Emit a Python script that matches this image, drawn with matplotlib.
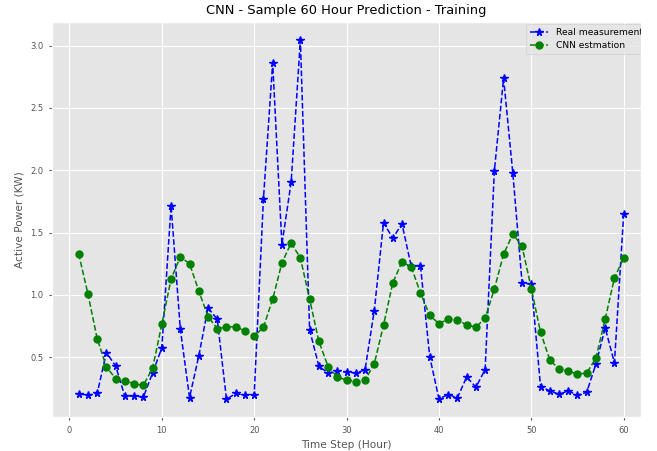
import matplotlib
matplotlib.use("Agg")
import matplotlib.pyplot as plt

# hourly time steps
hours = list(range(1, 61))

# measured active power (KW)
real_power = [
    0.206, 0.195, 0.209, 0.537, 0.430, 0.185, 0.190, 0.180, 0.374, 0.575,
    1.717, 0.727, 0.176, 0.510, 0.896, 0.805, 0.163, 0.209, 0.195, 0.200,
    1.770, 2.861, 1.404, 1.904, 3.045, 0.719, 0.428, 0.372, 0.390, 0.380,
    0.374, 0.398, 0.874, 1.580, 1.455, 1.570, 1.230, 1.235, 0.505, 0.166,
    0.200, 0.174, 0.342, 0.259, 0.401, 1.997, 2.738, 1.976, 1.096, 1.086,
    0.265, 0.230, 0.203, 0.230, 0.195, 0.219, 0.447, 0.735, 0.455, 1.650,
]

# CNN model estimate (KW)
cnn_power = [
    1.329, 1.008, 0.650, 0.422, 0.329, 0.313, 0.286, 0.275, 0.412, 0.765,
    1.128, 1.305, 1.251, 1.032, 0.826, 0.730, 0.741, 0.746, 0.709, 0.668,
    0.741, 0.965, 1.257, 1.417, 1.297, 0.965, 0.628, 0.425, 0.342, 0.316,
    0.305, 0.316, 0.447, 0.757, 1.096, 1.265, 1.225, 1.016, 0.835, 0.770,
    0.805, 0.800, 0.759, 0.741, 0.813, 1.048, 1.326, 1.489, 1.390, 1.051,
    0.700, 0.479, 0.404, 0.388, 0.366, 0.372, 0.495, 0.807, 1.136, 1.297,
]

plt.style.use("ggplot")

fig, ax = plt.subplots(figsize=(6.57, 4.51), dpi=100)
fig.subplots_adjust(left=0.079, right=0.976, top=0.951, bottom=0.075)

ax.plot(hours, real_power, "b--", marker="*", markersize=5.5, linewidth=1.1,
        label="Real measurement")
ax.plot(hours, cnn_power, "g--", marker="o", markersize=5, linewidth=1.1,
        label="CNN estmation")

ax.set_xlim(-1.9, 61.9)
ax.set_title("CNN - Sample 60 Hour Prediction - Training", fontsize=9.4, color="black")
ax.set_xlabel("Time Step (Hour)", fontsize=7.6)
ax.set_ylabel("Active Power (KW)", fontsize=7.6)
ax.tick_params(labelsize=6, length=2.5)

# legend sits at the top right and runs past the plot edge, clipped there
leg = ax.legend(loc="upper left", bbox_to_anchor=(0.805, 0.995), fontsize=6.6,
                borderaxespad=0.0)
for artist in leg.findobj():
    artist.set_clip_box(ax.bbox)
    artist.set_clip_on(True)

fig.savefig("out.png", dpi=100)
